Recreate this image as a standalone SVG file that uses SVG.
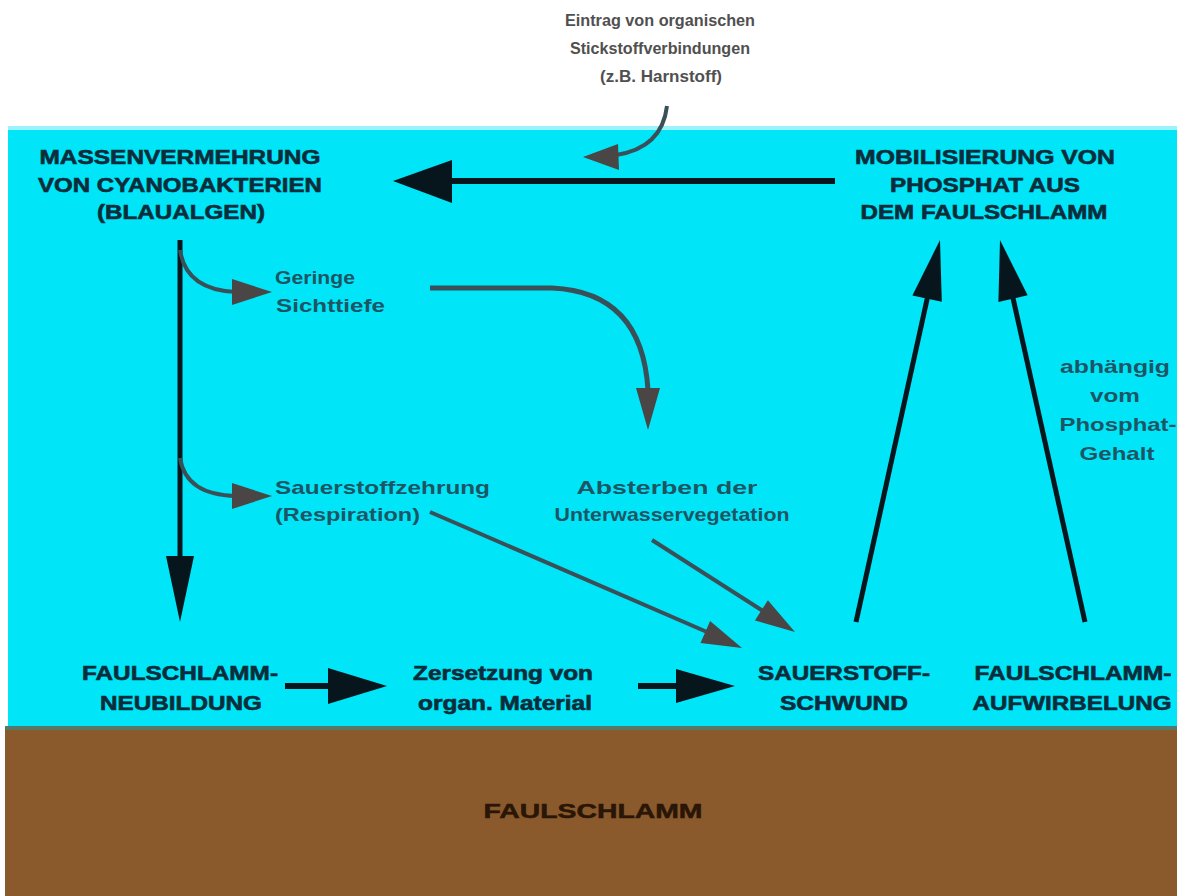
<svg xmlns="http://www.w3.org/2000/svg" width="1177" height="896" viewBox="0 0 1177 896">
<style>
.big{font-family:"Liberation Sans",Arial,sans-serif;font-weight:bold;font-size:20px;fill:#0b2d3b;stroke:#0b2d3b;stroke-width:0.6;text-anchor:middle}
.mid{font-family:"Liberation Sans",Arial,sans-serif;font-weight:bold;font-size:19px;fill:#1d5565}
.top{font-family:"Liberation Sans",Arial,sans-serif;font-weight:bold;font-size:16px;fill:#505050;text-anchor:middle}
.mud{font-family:"Liberation Sans",Arial,sans-serif;font-weight:bold;font-size:20px;fill:#2a1607;stroke:#2a1607;stroke-width:0.5;text-anchor:middle}
.blk{stroke:#06161c;fill:none}
.gry{stroke:#3a5058;fill:none}
.hb{fill:#06161c}
.hg{fill:#4a4646}
</style>
<rect x="0" y="0" width="1177" height="896" fill="#ffffff"/>
<rect x="8" y="126" width="1169" height="4" fill="#9ef2fb"/>
<rect x="8" y="130" width="1169" height="598" fill="#00e5f8"/>
<rect x="5" y="726" width="1172" height="170" fill="#8a5a2c"/>
<rect x="5" y="726" width="1172" height="4" fill="#55786a"/>

<g id="connectors">
  <path class="blk" d="M835,181 L445,181" stroke-width="6"/>
  <polygon class="hb" points="393,181 452,160 452,203"/>
  <path class="gry" d="M667,106 Q662,148 616,155" stroke-width="4"/>
  <polygon class="hg" points="583,157 618,144 619,170"/>
  <path class="blk" d="M180,240 L180,565" stroke-width="5"/>
  <polygon class="hb" points="180,622 166,556 194,556"/>
  <path class="gry" d="M180,250 Q186,290 236,292" stroke-width="4"/>
  <polygon class="hg" points="272,292 232,279 232,305"/>
  <path class="gry" d="M180,458 Q186,495 236,496" stroke-width="4"/>
  <polygon class="hg" points="272,496 232,483 232,509"/>
  <path class="gry" d="M430,288 L552,288 Q642,292 648,390" stroke-width="5"/>
  <polygon class="hg" points="648,430 636,388 660,388"/>
  <path class="gry" d="M430,512 L707,632" stroke-width="4"/>
  <polygon class="hg" points="742,648 700.5,643 710.1,621"/>
  <path class="gry" d="M652,540 L763,611" stroke-width="4"/>
  <polygon class="hg" points="795,632 754.9,620.5 767.9,600.3"/>
  <path class="blk" d="M285,686 L335,686" stroke-width="6"/>
  <polygon class="hb" points="387,686 328,668 328,704"/>
  <path class="blk" d="M638,686 L682,686" stroke-width="6"/>
  <polygon class="hb" points="735,686 676,669 676,703"/>
  <path class="blk" d="M856,622 L928,295" stroke-width="5"/>
  <polygon class="hb" points="940,240 941.8,301.8 912.4,295.4"/>
  <path class="blk" d="M1085,622 L1013,298" stroke-width="5"/>
  <polygon class="hb" points="1000,240 1027.6,295.3 998.4,301.9"/>
</g>

<g id="eintrag">
  <text class="top" x="660" y="26" textLength="190" lengthAdjust="spacingAndGlyphs">Eintrag von organischen</text>
  <text class="top" x="660" y="54" textLength="180" lengthAdjust="spacingAndGlyphs">Stickstoffverbindungen</text>
  <text class="top" x="661" y="82" textLength="122" lengthAdjust="spacingAndGlyphs">(z.B. Harnstoff)</text>
</g>
<g id="massenvermehrung">
  <text class="big" x="180" y="164" textLength="281" lengthAdjust="spacingAndGlyphs">MASSENVERMEHRUNG</text>
  <text class="big" x="180" y="192" textLength="284" lengthAdjust="spacingAndGlyphs">VON CYANOBAKTERIEN</text>
  <text class="big" x="181" y="219" textLength="168" lengthAdjust="spacingAndGlyphs">(BLAUALGEN)</text>
</g>
<g id="mobilisierung">
  <text class="big" x="985" y="164" textLength="260" lengthAdjust="spacingAndGlyphs">MOBILISIERUNG VON</text>
  <text class="big" x="985" y="192" textLength="190" lengthAdjust="spacingAndGlyphs">PHOSPHAT AUS</text>
  <text class="big" x="984" y="219" textLength="247" lengthAdjust="spacingAndGlyphs">DEM FAULSCHLAMM</text>
</g>
<g id="sichttiefe">
  <text class="mid" x="275" y="284" textLength="80" lengthAdjust="spacingAndGlyphs">Geringe</text>
  <text class="mid" x="276" y="312" textLength="109" lengthAdjust="spacingAndGlyphs">Sichttiefe</text>
</g>
<g id="sauerstoffzehrung">
  <text class="mid" x="275" y="494" textLength="215" lengthAdjust="spacingAndGlyphs">Sauerstoffzehrung</text>
  <text class="mid" x="275" y="521" textLength="145" lengthAdjust="spacingAndGlyphs">(Respiration)</text>
</g>
<g id="absterben">
  <text class="mid" x="667" y="494" text-anchor="middle" textLength="181" lengthAdjust="spacingAndGlyphs">Absterben der</text>
  <text class="mid" x="672" y="521" text-anchor="middle" textLength="235" lengthAdjust="spacingAndGlyphs">Unterwasservegetation</text>
</g>
<g id="phosphatgehalt">
  <text class="mid" x="1115" y="373" text-anchor="middle" textLength="110" lengthAdjust="spacingAndGlyphs">abhängig</text>
  <text class="mid" x="1115" y="402" text-anchor="middle" textLength="50" lengthAdjust="spacingAndGlyphs">vom</text>
  <text class="mid" x="1118" y="431" text-anchor="middle" textLength="117" lengthAdjust="spacingAndGlyphs">Phosphat-</text>
  <text class="mid" x="1117" y="460" text-anchor="middle" textLength="75" lengthAdjust="spacingAndGlyphs">Gehalt</text>
</g>
<g id="neubildung">
  <text class="big" x="180" y="680" textLength="196" lengthAdjust="spacingAndGlyphs">FAULSCHLAMM-</text>
  <text class="big" x="181" y="710" textLength="162" lengthAdjust="spacingAndGlyphs">NEUBILDUNG</text>
</g>
<g id="zersetzung">
  <text class="big" x="503" y="680" textLength="180" lengthAdjust="spacingAndGlyphs">Zersetzung von</text>
  <text class="big" x="505" y="710" textLength="174" lengthAdjust="spacingAndGlyphs">organ. Material</text>
</g>
<g id="sauerstoffschwund">
  <text class="big" x="844" y="680" textLength="172" lengthAdjust="spacingAndGlyphs">SAUERSTOFF-</text>
  <text class="big" x="844" y="710" textLength="128" lengthAdjust="spacingAndGlyphs">SCHWUND</text>
</g>
<g id="aufwirbelung">
  <text class="big" x="1073" y="680" textLength="197" lengthAdjust="spacingAndGlyphs">FAULSCHLAMM-</text>
  <text class="big" x="1072" y="710" textLength="199" lengthAdjust="spacingAndGlyphs">AUFWIRBELUNG</text>
</g>
<g id="faulschlamm">
  <text class="mud" x="593" y="818" textLength="219" lengthAdjust="spacingAndGlyphs">FAULSCHLAMM</text>
</g>
</svg>
